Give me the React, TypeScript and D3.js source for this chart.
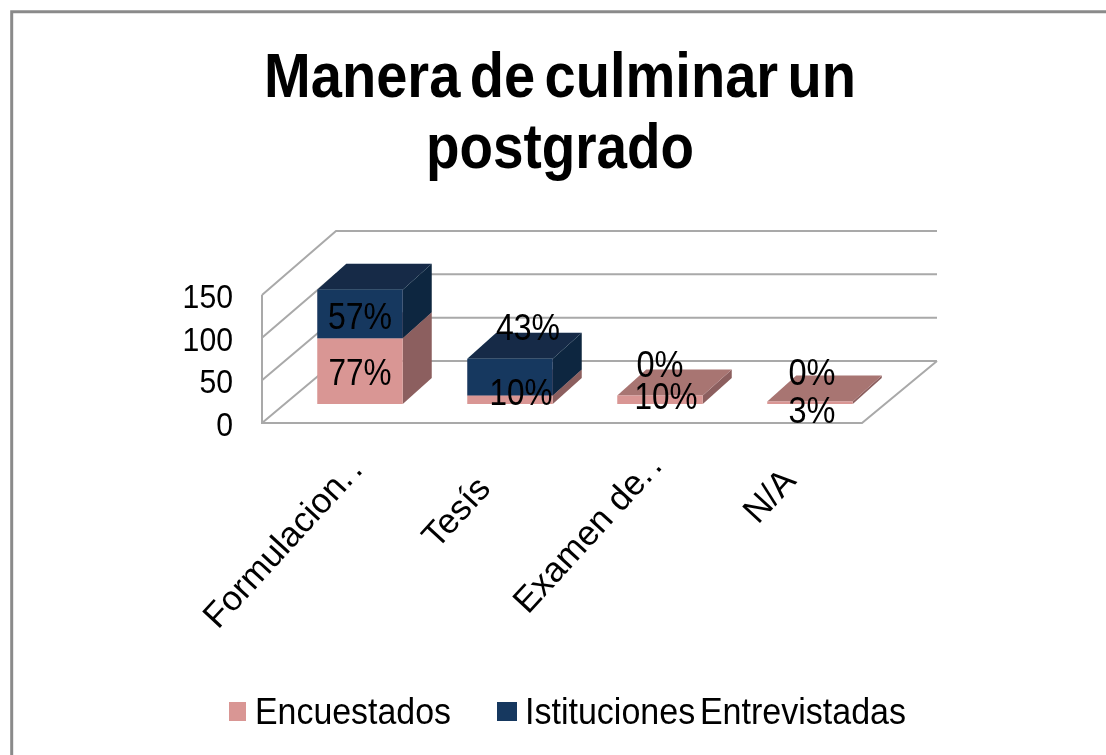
import React from "react";
import * as d3 from "d3";

const title = ["Manera de culminar un", "postgrado"];
const categories = ["Formulacion", "Tesís", "Examen de", "N/A"];
const categoryEllipsis = ["..", "", "..", ""];
const encuestados = [77, 10, 10, 3];
const entrevistadas = [57, 43, 0, 0];
const encuestadosLabels = ["77%", "10%", "10%", "3%"];
const entrevistadasLabels = ["57%", "43%", "0%", "0%"];
const yTicks = [0, 50, 100, 150];
const legendNames = ["Encuestados", "Istituciones Entrevistadas"];

const PINK = { front: "#D99694", top: "#A87472", side: "#8C5F5E" };
const BLUE = { front: "#17375E", top: "#122A47", side: "#10263F" };
const GRID = "#A9A9A9";
const FONT = "'Liberation Sans', Arial, sans-serif";

const x = d3.scaleBand<string>().domain(categories).range([262, 862]).paddingInner(0.43).paddingOuter(0.215);
const y = d3.scaleLinear().domain([0, 150]).range([423, 295]);
const yBack = d3.scaleLinear().domain([0, 150]).range([361, 231]);

// Oblique projection of the 3D box
const floorDx = 74;
const barOffX = 23, barOffY = -19, barDx = 29, barDy = -26;

const poly = (pts: [number, number][]) => d3.line()(pts) + "Z";

function Box({ cx, w, v0, v1, c }: { cx: number; w: number; v0: number; v1: number; c: typeof PINK }) {
  const l = cx + barOffX, r = l + w;
  const b = y(v0) + barOffY, t = y(v1) + barOffY;
  return (
    <g>
      <path d={poly([[r, b], [r + barDx, b + barDy], [r + barDx, t + barDy], [r, t]])} fill={c.side} />
      <path d={poly([[l, t], [r, t], [r + barDx, t + barDy], [l + barDx, t + barDy]])} fill={c.top} />
      <rect x={l} y={t} width={w} height={Math.max(b - t, 0)} fill={c.front} />
    </g>
  );
}

// Layout nudges: where the original chart let its labels fall, relative to the bars
const lowLabelNudge: [number, number][] = [[0, 1], [11, -8], [6, -4], [2, 7]];
const highLabelNudge: [number, number][] = [[0, 2], [18, -50], [0, -31], [2, -29]];
const catStart: [number, number][] = [[-142, 630], [-73, 550], [-132, 615], [-52, 525]];

export default function App() {
  const w = x.bandwidth();
  return (
    <svg width={1106} height={755} style={{ position: "absolute", left: 0, top: 0, background: "#fff" }}>
      <defs>
        <filter id="soft" x="-5%" y="-5%" width="110%" height="110%"><feGaussianBlur stdDeviation="0.7" /></filter>
      </defs>
      <g filter="url(#soft)">
        <path d="M11.7,755V11.7H1106" fill="none" stroke="#8A8A8A" strokeWidth={3} />
        <g fontFamily={FONT} fontWeight="bold" fontSize={63} fill="#000" textAnchor="middle">
          <text x={560} y={97} wordSpacing={-7} textLength={592} lengthAdjust="spacingAndGlyphs">{title[0]}</text>
          <text x={560} y={168} textLength={268} lengthAdjust="spacingAndGlyphs">{title[1]}</text>
        </g>

        {/* walls and gridlines */}
        {yTicks.map((t) => (
          <path key={t}
            d={`M262,${y(t)}L${262 + floorDx},${yBack(t)}H937`}
            fill="none" stroke={GRID} strokeWidth={2} />
        ))}
        <path d={`M262,${y(150)}V${y(0)}H862L937,${yBack(0)}`} fill="none" stroke={GRID} strokeWidth={2} />

        {categories.map((c, i) => (
          <g key={c}>
            <Box cx={x(c)!} w={w} v0={0} v1={encuestados[i]} c={PINK} />
            {entrevistadas[i] > 0 && (
              <Box cx={x(c)!} w={w} v0={encuestados[i]} v1={encuestados[i] + entrevistadas[i]} c={BLUE} />
            )}
          </g>
        ))}

        {/* value labels */}
        <g fontFamily={FONT} fontSize={37} fill="#000" textAnchor="middle">
          {categories.map((c, i) => {
            const cx = x(c)! + barOffX + w / 2;
            const pos1 = y(encuestados[i] / 2) + barOffY + 13;
            const pos2 = y(encuestados[i] + entrevistadas[i] / 2) + barOffY + 13;
            return (
              <g key={c}>
                <text x={cx + lowLabelNudge[i][0]} y={pos1 + lowLabelNudge[i][1]}
                  textLength={encuestadosLabels[i].length === 2 ? 47 : 63} lengthAdjust="spacingAndGlyphs">{encuestadosLabels[i]}</text>
                <text x={cx + highLabelNudge[i][0]} y={pos2 + highLabelNudge[i][1]}
                  textLength={entrevistadasLabels[i].length === 2 ? 47 : 64} lengthAdjust="spacingAndGlyphs">{entrevistadasLabels[i]}</text>
              </g>
            );
          })}
        </g>

        {/* y axis labels */}
        <g fontFamily={FONT} fontSize={33} fill="#000" textAnchor="end">
          {yTicks.map((t) => (
            <text key={t} x={233} y={y(t) + 13} textLength={String(t).length * 16.8} lengthAdjust="spacingAndGlyphs">{t}</text>
          ))}
        </g>

        {/* category labels */}
        <g fontFamily={FONT} fontSize={35} fill="#000">
          {categories.map((c, i) => (
            <text key={c} transform={`translate(${x(c)! + barOffX + w / 2 + catStart[i][0]},${catStart[i][1]}) rotate(-47.5)`}>
              {c}<tspan letterSpacing={4}>{categoryEllipsis[i]}</tspan>
            </text>
          ))}
        </g>

        {/* legend */}
        <g fontFamily={FONT} fontSize={36} fill="#000">
          <rect x={229} y={702} width={17} height={19} fill={PINK.front} />
          <text x={255} y={724} textLength={196} lengthAdjust="spacingAndGlyphs">{legendNames[0]}</text>
          <rect x={497} y={702} width={20} height={19} fill={BLUE.front} />
          <text x={525} y={724} wordSpacing={-5} textLength={381} lengthAdjust="spacingAndGlyphs">{legendNames[1]}</text>
        </g>
      </g>
    </svg>
  );
}
